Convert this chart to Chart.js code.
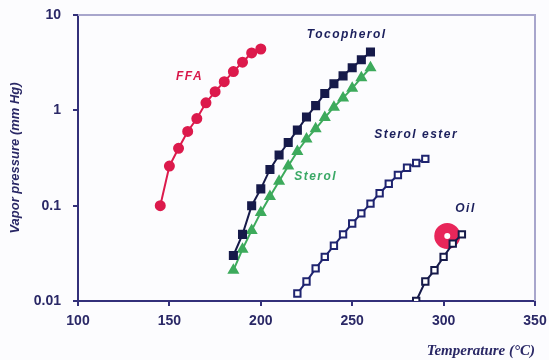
<!DOCTYPE html>
<html>
<head>
<meta charset="utf-8">
<script src="https://cdn.jsdelivr.net/npm/chart.js@4/dist/chart.umd.min.js"></script>
<style>
  html, body { margin: 0; padding: 0; background: #fcfcfe; overflow: hidden; }
  canvas { display: block; }
</style>
</head>
<body>
<canvas id="vp" width="549" height="360"></canvas>
<script>
'use strict';

// temperatures (°C)
const ffaT = [145, 150, 155, 160, 165, 170, 175, 180, 185, 190, 195, 200];
const tocoT = [185, 190, 195, 200, 205, 210, 215, 220, 225, 230, 235, 240, 245, 250, 255, 260];
const sterolT = [185, 190, 195, 200, 205, 210, 215, 220, 225, 230, 235, 240, 245, 250, 255, 260];
const esterT = [220, 225, 230, 235, 240, 245, 250, 255, 260, 265, 270, 275, 280, 285, 290];
const oilT = [285, 290, 295, 300, 305, 310];
const oilBlobT = [302];

// vapor pressures (mm Hg)
const ffaP = [0.1, 0.26, 0.4, 0.6, 0.82, 1.2, 1.57, 2.0, 2.55, 3.2, 4.0, 4.4];
const tocoP = [0.03, 0.05, 0.1, 0.15, 0.24, 0.34, 0.46, 0.62, 0.85, 1.12, 1.5, 1.9, 2.3, 2.8, 3.4, 4.1];
const sterolP = [0.021, 0.035, 0.055, 0.085, 0.125, 0.18, 0.26, 0.37, 0.5, 0.64, 0.84, 1.08, 1.35, 1.7, 2.2, 2.8];
const esterP = [0.012, 0.016, 0.022, 0.029, 0.038, 0.05, 0.065, 0.083, 0.105, 0.135, 0.17, 0.21, 0.25, 0.28, 0.31];
const oilP = [0.01, 0.016, 0.021, 0.029, 0.04, 0.05];
const oilBlobP = [0.048];

const xTicks = [100, 150, 200, 250, 300, 350];
const yTicks = [0.01, 0.1, 1, 10];

// in-plot curve names: [text, T, P, colour]
const curveLabels = [
    ['FFA', 161, 2.25, '#d8174a'],
    ['Tocopherol', 247, 6.2, '#1b1f5c'],
    ['Sterol', 230, 0.2, '#3aa866'],
    ['Sterol ester', 285, 0.55, '#1b1f5c'],
    ['Oil', 312, 0.092, '#1b1f5c'],
];

const colors = {
    ffa: '#dc1a4c',
    toco: '#161a4a',
    sterol: '#3daa5c',
    ester: '#1f2470',
    axis: '#33307a',
    frame: '#a8a6cc',
};

const pts = (xs, ys) => xs.map((x, i) => ({ x: x, y: ys[i] }));

const frameAndLabels = {
    id: 'frameAndLabels',
    beforeDatasetsDraw(chart) {
        const { ctx, chartArea: a } = chart;
        ctx.save();
        ctx.strokeStyle = colors.frame;
        ctx.lineWidth = 2;
        ctx.beginPath();
        ctx.moveTo(a.left, a.top);
        ctx.lineTo(a.right, a.top);
        ctx.lineTo(a.right, a.bottom);
        ctx.stroke();
        ctx.restore();
    },
    afterDatasetsDraw(chart) {
        const { ctx, scales } = chart;
        ctx.save();
        ctx.font = 'bold italic 12px "Liberation Sans", Arial, sans-serif';
        ctx.textAlign = 'center';
        ctx.textBaseline = 'middle';
        ctx.letterSpacing = '1.5px';
        curveLabels.forEach(([txt, t, p, c]) => {
            ctx.fillStyle = c;
            ctx.fillText(txt, scales.x.getPixelForValue(t), scales.y.getPixelForValue(p));
        });
        ctx.restore();
    }
};

new Chart(document.getElementById('vp'), {
    type: 'line',
    data: {
        datasets: [{
            label: 'FFA',
            data: pts(ffaT, ffaP),
            borderColor: colors.ffa,
            backgroundColor: colors.ffa,
            borderWidth: 2,
            pointStyle: 'circle',
            pointRadius: 4.5,
        }, {
            label: 'Tocopherol',
            data: pts(tocoT, tocoP),
            borderColor: colors.toco,
            backgroundColor: colors.toco,
            borderWidth: 2,
            pointStyle: 'rect',
            pointRadius: 5,
        }, {
            label: 'Sterol',
            data: pts(sterolT, sterolP),
            borderColor: colors.sterol,
            backgroundColor: colors.sterol,
            borderWidth: 2,
            pointStyle: 'triangle',
            pointRadius: 5,
        }, {
            label: 'Sterol ester',
            data: pts(esterT, esterP),
            borderColor: colors.ester,
            backgroundColor: '#ffffff',
            borderWidth: 2,
            pointStyle: 'rect',
            pointRadius: 4.5,
        }, {
            label: 'Oil',
            data: pts(oilT, oilP),
            borderColor: colors.toco,
            backgroundColor: '#ffffff',
            borderWidth: 2,
            pointStyle: 'rect',
            pointRadius: 4.5,
        }, {
            label: 'Oil (red)',
            data: pts(oilBlobT, oilBlobP),
            showLine: false,
            borderColor: '#e8265a',
            backgroundColor: '#ffffff',
            pointStyle: 'circle',
            pointRadius: 8,
            pointBorderWidth: 10,
        }]
    },
    options: {
        responsive: false,
        animation: false,
        layout: { autoPadding: false, padding: { top: 15, right: 14, left: 0, bottom: 0 } },
        plugins: {
            legend: { display: false },
            tooltip: { enabled: false },
        },
        scales: {
            x: {
                type: 'linear',
                min: 100,
                max: 350,
                afterBuildTicks: (s) => { s.ticks = xTicks.map(v => ({ value: v })); },
                afterFit: (s) => {
                    s.height = 59;
                    s.paddingLeft = 0;
                    s.paddingRight = 0;
                },
                grid: { drawOnChartArea: false, drawTicks: true, tickLength: 5, color: colors.axis, lineWidth: 2 },
                border: { display: true, color: colors.axis, width: 2 },
                ticks: {
                    color: '#2a2866',
                    font: { family: '"Liberation Sans", Arial, sans-serif', size: 14, weight: 'bold' },
                    padding: 7,
                    maxRotation: 0,
                },
                title: {
                    display: true,
                    text: 'Temperature (°C)',
                    align: 'end',
                    color: '#2a2866',
                    font: { family: '"Liberation Serif", "Times New Roman", serif', size: 15, weight: 'bold', style: 'italic' },
                    padding: { top: 0, bottom: 0 },
                },
            },
            y: {
                type: 'logarithmic',
                min: 0.01,
                max: 10,
                afterBuildTicks: (s) => { s.ticks = yTicks.map(v => ({ value: v })); },
                afterFit: (s) => {
                    s.width = 78;
                    s.paddingTop = 0;
                    s.paddingBottom = 0;
                },
                grid: { drawOnChartArea: false, drawTicks: true, tickLength: 5, color: colors.axis, lineWidth: 2 },
                border: { display: true, color: colors.axis, width: 2 },
                ticks: {
                    color: '#2a2866',
                    font: { family: '"Liberation Sans", Arial, sans-serif', size: 14, weight: 'bold' },
                    padding: 12,
                    callback: (v) => String(v),
                },
                title: {
                    display: true,
                    text: 'Vapor pressure (mm Hg)',
                    color: '#2a2866',
                    font: { family: '"Liberation Sans", Arial, sans-serif', size: 13, weight: 'bold', style: 'italic' },
                    padding: { top: 8, bottom: 0 },
                },
            },
        },
    },
    plugins: [frameAndLabels],
});
</script>
</body>
</html>
